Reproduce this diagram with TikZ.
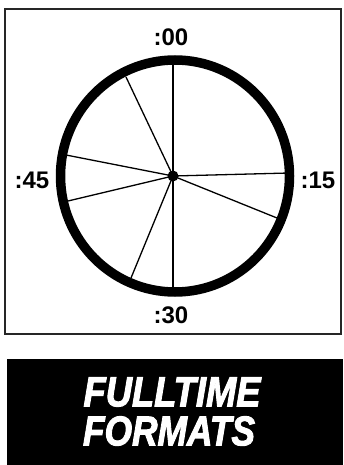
\documentclass[tikz,border=0pt]{standalone}
\usepackage{fontspec}
\setmainfont{Liberation Sans}
\newfontfamily\bannerfont{Liberation Sans}[BoldItalicFeatures={FakeBold=2.5}]
\usepackage{graphicx}
\begin{document}
\begin{tikzpicture}[x=1pt,y=-1pt,
  frame/.style={draw=black!85,line width=2pt},
  rim/.style={draw=black,line width=9.5pt},
  spoke/.style={draw=black,line width=1.3pt},
  minute/.style={font=\fontsize{24}{24}\selectfont\bfseries,inner sep=0pt},
  banner/.style={fill=black,draw=none},
  bannertext/.style={text=white,inner sep=0pt}]
\useasboundingbox (0,0) rectangle (343,465);
\fill[white] (0,0) rectangle (343,465);
\draw[frame] (5,9) rectangle (341,334);
\coordinate (hub) at (173,176);
\draw[rim] (175,176) ellipse [x radius=114.5, y radius=116];
\coordinate (p00) at (173,60);
\coordinate (p1) at (126,77);
\coordinate (p2) at (66,155);
\coordinate (p3) at (68,201);
\coordinate (p4) at (131,278);
\coordinate (p30) at (173,290);
\coordinate (p6) at (277,218);
\coordinate (p15) at (289,173);
\foreach \p in {p00,p1,p2,p3,p4,p30,p6,p15} \draw[spoke] (hub) -- (\p);
\fill[black] (hub) circle (5.5);
\node[minute] (m00) at (171,37) {:00};
\node[minute] (m30) at (171,315) {:30};
\node[minute] (m45) at (32,180) {:45};
\node[minute] (m15) at (318,180) {:15};
\fill[banner] (7,359) rectangle (343,465);
\node[bannertext] (t1) at (172,392)
  {\resizebox{177pt}{29pt}{\bannerfont\bfseries\itshape FULLTIME}};
\node[bannertext] (t2) at (169,431)
  {\resizebox{172pt}{29pt}{\bannerfont\bfseries\itshape FORMATS}};
\end{tikzpicture}
\end{document}
